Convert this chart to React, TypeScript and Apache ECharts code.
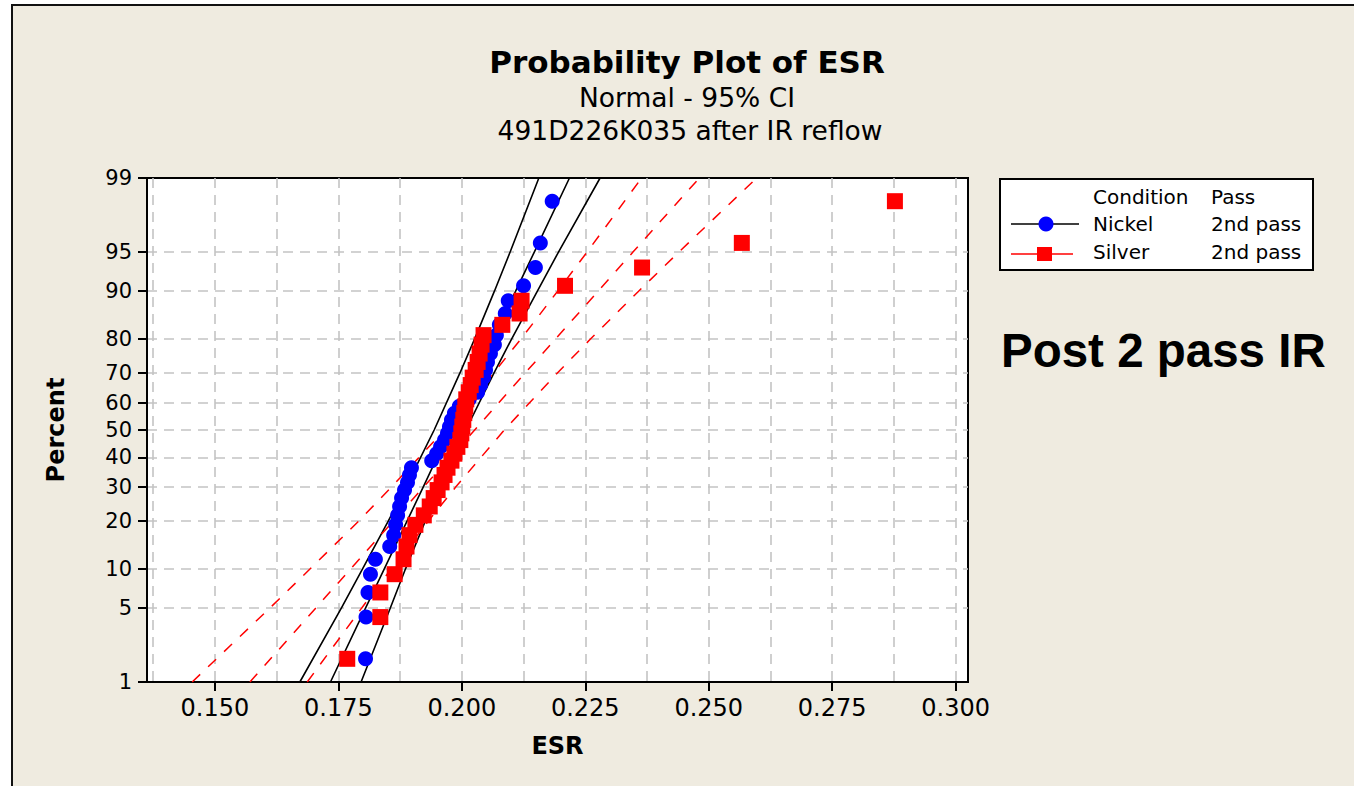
import React, { useEffect, useRef } from "react";
import * as echarts from "echarts";

// Plotting positions (percent) shared by both 40-point samples
const plotPercent = [
  1.733, 4.208, 6.683, 9.158, 11.634, 14.109, 16.584, 19.059, 21.535, 24.01,
  26.485, 28.96, 31.436, 33.911, 36.386, 38.861, 41.337, 43.812, 46.287, 48.762,
  51.238, 53.713, 56.188, 58.663, 61.139, 63.614, 66.089, 68.564, 71.04, 73.515,
  75.99, 78.465, 80.941, 83.416, 85.891, 88.366, 90.842, 93.317, 95.792, 98.267,
];

const nickelESR = [
  0.1805, 0.1806, 0.181, 0.1815, 0.1825, 0.1854, 0.1862, 0.1866, 0.187, 0.1874,
  0.1878, 0.1884, 0.189, 0.1894, 0.1898, 0.1939, 0.1949, 0.1957, 0.1965, 0.1971,
  0.1975, 0.1979, 0.1985, 0.1995, 0.2015, 0.2032, 0.2038, 0.2044, 0.2048, 0.2052,
  0.2058, 0.2066, 0.207, 0.2076, 0.2088, 0.2094, 0.2125, 0.2149, 0.2159, 0.2183,
];

const silverESR = [
  0.1768, 0.1835, 0.1835, 0.1864, 0.1882, 0.1888, 0.1894, 0.1906, 0.1923, 0.1935,
  0.1943, 0.1951, 0.1959, 0.1965, 0.1971, 0.1979, 0.1985, 0.1991, 0.1997, 0.1999,
  0.2001, 0.2003, 0.2005, 0.2007, 0.2009, 0.2014, 0.2018, 0.2022, 0.2028, 0.2032,
  0.2036, 0.204, 0.2044, 0.2082, 0.2117, 0.2121, 0.2209, 0.2365, 0.2567, 0.2877,
];

// Fitted lines and 95% CI bounds, read at these percent levels
const fitLevels = [1, 5, 10, 20, 30, 50, 70, 80, 90, 95, 99];
const nickelFit = [0.1734, 0.1805, 0.1843, 0.1889, 0.1922, 0.1976, 0.2031, 0.2063, 0.2109, 0.2147, 0.2218];
const nickelLower = [0.1672, 0.1756, 0.1799, 0.1851, 0.1887, 0.1944, 0.1996, 0.2026, 0.2066, 0.2098, 0.2156];
const nickelUpper = [0.1796, 0.1855, 0.1886, 0.1926, 0.1956, 0.2008, 0.2065, 0.2101, 0.2153, 0.2196, 0.228];
const silverFit = [0.1571, 0.1704, 0.1775, 0.1861, 0.1923, 0.2026, 0.2128, 0.219, 0.2276, 0.2347, 0.2481];
const silverLower = [0.1454, 0.1611, 0.1693, 0.1791, 0.1858, 0.1965, 0.2064, 0.212, 0.2194, 0.2254, 0.2364];
const silverUpper = [0.1687, 0.1797, 0.1857, 0.1932, 0.1988, 0.2086, 0.2193, 0.2261, 0.2358, 0.244, 0.2597];

// Axis ticks
const yTickPercents = [1, 5, 10, 20, 30, 40, 50, 60, 70, 80, 90, 95, 99];
const xTickValues = [0.15, 0.175, 0.2, 0.225, 0.25, 0.275, 0.3];
const xGridValues = [
  0.1375, 0.15, 0.1625, 0.175, 0.1875, 0.2, 0.2125, 0.225, 0.2375, 0.25, 0.2625,
  0.275, 0.2875, 0.3,
];
const xMin = 0.13625;
const xMax = 0.3025;

// Normal probability scale transform (inverse standard normal CDF)
function probit(p: number): number {
  const a = [-3.969683028665376e1, 2.209460984245205e2, -2.759285104469687e2, 1.38357751867269e2, -3.066479806614716e1, 2.506628277459239];
  const b = [-5.447609879822406e1, 1.615858368580409e2, -1.556989798598866e2, 6.680131188771972e1, -1.328068155288572e1];
  const c = [-7.784894002430293e-3, -3.223964580411365e-1, -2.400758277161838, -2.549732539343734, 4.374664141464968, 2.938163982698783];
  const d = [7.784695709041462e-3, 3.224671290700398e-1, 2.445134137142996, 3.754408661907416];
  const pl = 0.02425;
  const ph = 1 - pl;
  let q: number, r: number;
  if (p < pl) {
    q = Math.sqrt(-2 * Math.log(p));
    return (((((c[0] * q + c[1]) * q + c[2]) * q + c[3]) * q + c[4]) * q + c[5]) / ((((d[0] * q + d[1]) * q + d[2]) * q + d[3]) * q + 1);
  }
  if (p <= ph) {
    q = p - 0.5;
    r = q * q;
    return ((((((a[0] * r + a[1]) * r + a[2]) * r + a[3]) * r + a[4]) * r + a[5]) * q) / (((((b[0] * r + b[1]) * r + b[2]) * r + b[3]) * r + b[4]) * r + 1);
  }
  q = Math.sqrt(-2 * Math.log(1 - p));
  return -(((((c[0] * q + c[1]) * q + c[2]) * q + c[3]) * q + c[4]) * q + c[5]) / ((((d[0] * q + d[1]) * q + d[2]) * q + d[3]) * q + 1);
}

const FONT = "DejaVu Sans";

export default function App() {
  const ref = useRef<HTMLDivElement>(null);

  useEffect(() => {
    if (!ref.current) return;
    const chart = echarts.init(ref.current, undefined, { renderer: "svg" });
    const yTicks = yTickPercents.map((p) => probit(p / 100));
    const yMin = probit(0.01);
    const yMax = probit(0.99);
    const toPts = (xs: number[], ps: number[]) => xs.map((v, i) => [v, probit(ps[i] / 100)]);

    const blackLine = { color: "#000", width: 1.6, type: "solid" as const };
    const redLine = { color: "#FF0000", width: 1.5, type: [11, 11] as any };
    const lineSeries = (name: string, xs: number[], style: any) => ({
      name,
      type: "line",
      data: toPts(xs, fitLevels),
      showSymbol: false,
      symbol: "none",
      lineStyle: style,
      silent: true,
      z: 2,
      xAxisIndex: 0,
      yAxisIndex: 0,
    });

    chart.setOption({
      animation: false,
      backgroundColor: "transparent",
      textStyle: { fontFamily: FONT },
      grid: {
        left: 147,
        right: 386,
        top: 178,
        bottom: 104,
        show: true,
        backgroundColor: "#FFFFFF",
        borderColor: "#000",
        borderWidth: 2,
      },
      xAxis: [
        {
          type: "value",
          min: xMin,
          max: xMax,
          position: "bottom",
          name: "ESR",
          nameLocation: "middle",
          nameGap: 52,
          nameTextStyle: { fontFamily: FONT, fontSize: 24, fontWeight: "bold", color: "#000" },
          axisLine: { show: true, onZero: false, lineStyle: { color: "#000", width: 2 } },
          axisTick: { show: true, customValues: xTickValues, length: 9, lineStyle: { color: "#000", width: 2 } },
          axisLabel: {
            customValues: xTickValues,
            formatter: (v: number) => v.toFixed(3),
            fontFamily: FONT,
            fontSize: 24,
            color: "#000",
            margin: 14,
          },
          splitLine: { show: false },
        },
        {
          type: "value",
          min: xMin,
          max: xMax,
          position: "bottom",
          axisLine: { show: false, onZero: false },
          axisTick: { show: false, customValues: xGridValues },
          axisLabel: { show: false, customValues: xGridValues },
          splitLine: { show: true, lineStyle: { color: "#C4C4C4", width: 1.6, type: [10, 7] } },
        },
      ],
      yAxis: {
        type: "value",
        min: yMin,
        max: yMax,
        name: "Percent",
        nameLocation: "middle",
        nameGap: 79,
        nameRotate: 90,
        nameTextStyle: { fontFamily: FONT, fontSize: 24, fontWeight: "bold", color: "#000" },
        axisLine: { show: true, onZero: false, lineStyle: { color: "#000", width: 2 } },
        axisTick: { show: true, customValues: yTicks, length: 9, lineStyle: { color: "#000", width: 2 } },
        axisLabel: {
          customValues: yTicks,
          formatter: (v: number) => {
            let best = yTickPercents[0];
            let bd = Infinity;
            yTickPercents.forEach((p) => {
              const dd = Math.abs(probit(p / 100) - v);
              if (dd < bd) {
                bd = dd;
                best = p;
              }
            });
            return String(best);
          },
          fontFamily: FONT,
          fontSize: 21,
          color: "#000",
          margin: 15,
        },
        splitLine: {
          show: true,
          showMinLine: false,
          showMaxLine: false,
          lineStyle: { color: "#C4C4C4", width: 1.6, type: [10, 7] },
        },
      },
      series: [
        lineSeries("Nickel CI lower", nickelLower, blackLine),
        lineSeries("Nickel fit", nickelFit, blackLine),
        lineSeries("Nickel CI upper", nickelUpper, blackLine),
        lineSeries("Silver CI lower", silverLower, redLine),
        lineSeries("Silver fit", silverFit, redLine),
        lineSeries("Silver CI upper", silverUpper, redLine),
        {
          name: "Nickel",
          type: "scatter",
          data: toPts(nickelESR, plotPercent),
          symbol: "circle",
          symbolSize: 15,
          itemStyle: { color: "#0000FF", opacity: 1 },
          z: 3,
        },
        {
          name: "Silver",
          type: "scatter",
          data: toPts(silverESR, plotPercent),
          symbol: "rect",
          symbolSize: 16,
          itemStyle: { color: "#FF0000", opacity: 1 },
          z: 4,
        },
      ],
      graphic: [
        {
          type: "text",
          x: 687,
          y: 62,
          style: { text: "Probability Plot of ESR", fill: "#000", font: `bold 31px "${FONT}"`, textAlign: "center", textVerticalAlign: "middle" },
        },
        {
          type: "text",
          x: 687,
          y: 97,
          style: { text: "Normal - 95% CI", fill: "#000", font: `26.5px "${FONT}"`, textAlign: "center", textVerticalAlign: "middle" },
        },
        {
          type: "text",
          x: 690,
          y: 130,
          style: { text: "491D226K035 after IR reflow", fill: "#000", font: `26.5px "${FONT}"`, textAlign: "center", textVerticalAlign: "middle" },
        },
        {
          type: "rect",
          shape: { x: 1000, y: 179, width: 313, height: 91 },
          style: { fill: "#FFFFFF", stroke: "#000", lineWidth: 2 },
        },
        { type: "text", x: 1093, y: 197, style: { text: "Condition", fill: "#000", font: `20px "${FONT}"`, textVerticalAlign: "middle" } },
        { type: "text", x: 1211, y: 197, style: { text: "Pass", fill: "#000", font: `20px "${FONT}"`, textVerticalAlign: "middle" } },
        { type: "text", x: 1093, y: 224, style: { text: "Nickel", fill: "#000", font: `20px "${FONT}"`, textVerticalAlign: "middle" } },
        { type: "text", x: 1211, y: 224, style: { text: "2nd pass", fill: "#000", font: `20px "${FONT}"`, textVerticalAlign: "middle" } },
        { type: "text", x: 1093, y: 252, style: { text: "Silver", fill: "#000", font: `20px "${FONT}"`, textVerticalAlign: "middle" } },
        { type: "text", x: 1211, y: 252, style: { text: "2nd pass", fill: "#000", font: `20px "${FONT}"`, textVerticalAlign: "middle" } },
        { type: "line", shape: { x1: 1011, y1: 224, x2: 1079, y2: 224 }, style: { stroke: "#000", lineWidth: 1.6 } },
        { type: "circle", shape: { cx: 1046, cy: 224, r: 7.5 }, style: { fill: "#0000FF" } },
        { type: "line", shape: { x1: 1011, y1: 254, x2: 1073, y2: 254 }, style: { stroke: "#FF0000", lineWidth: 1.6 } },
        { type: "rect", shape: { x: 1037, y: 247, width: 15, height: 14 }, style: { fill: "#FF0000" } },
        {
          type: "text",
          x: 1001,
          y: 350,
          style: { text: "Post 2 pass IR", fill: "#000", font: `bold 47.5px "Liberation Sans", Arial, sans-serif`, textVerticalAlign: "middle" },
        },
      ],
    });
    return () => chart.dispose();
  }, []);

  return (
    <div style={{ position: "absolute", left: 0, top: 0, width: 1354, height: 786, background: "#FFFFFF", overflow: "hidden" }}>
      <div
        style={{
          position: "absolute",
          left: 11,
          top: 4,
          width: 1354 - 11,
          height: 786 - 4,
          background: "#EFEBE0",
          borderLeft: "2px solid #111",
          borderTop: "2px solid #111",
          boxSizing: "border-box",
        }}
      />
      <div ref={ref} style={{ position: "absolute", left: 0, top: 0, width: 1354, height: 786 }} />
    </div>
  );
}
